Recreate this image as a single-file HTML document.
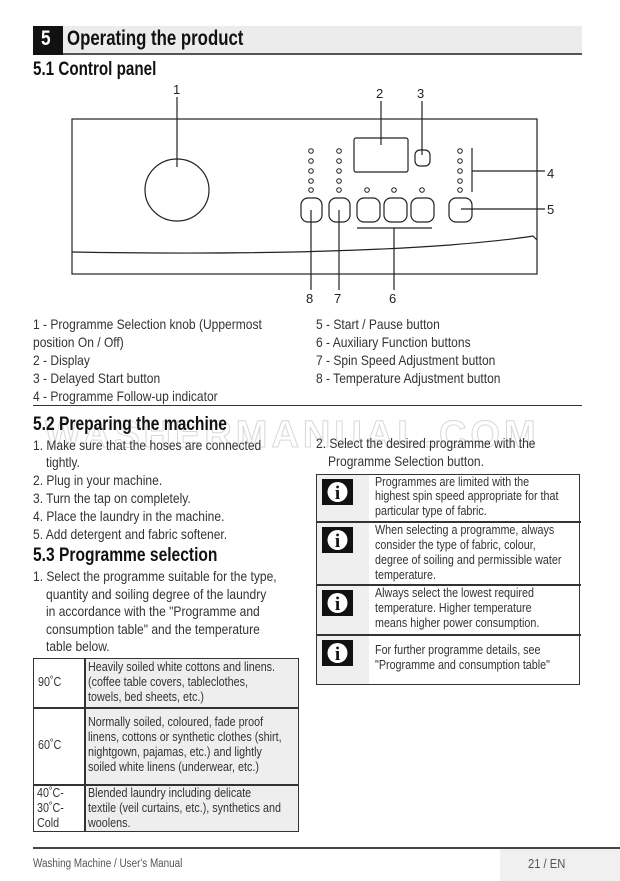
<!DOCTYPE html>
<html><head><meta charset="utf-8"><style>
body{margin:0;width:620px;height:881px;background:#fff;position:relative;overflow:hidden;font-family:"Liberation Sans",sans-serif;color:#333}
.t{position:absolute;white-space:nowrap;font-size:14px;line-height:18px;transform:scaleX(.86);transform-origin:0 0;color:#333}
.s{position:absolute;white-space:nowrap;font-size:12.5px;line-height:15px;transform:scaleX(.86);transform-origin:0 0;color:#333}
.h{position:absolute;white-space:nowrap;font-size:19px;font-weight:bold;transform:scaleX(.82);transform-origin:0 0;color:#111}
</style></head><body>
<div style="position:absolute;left:33px;top:26px;width:549px;height:27px;background:#ececec;border-bottom:2px solid #555"></div>
<div style="position:absolute;left:33px;top:26px;width:30px;height:29px;background:#111"></div>
<div class="h" style="left:41px;top:27px;color:#fff;font-size:21px">5</div>
<div class="h" style="left:67px;top:27px;font-size:21px;transform:scaleX(.8)">Operating the product</div>
<div class="h" style="left:33px;top:59px;transform:scaleX(.8)">5.1 Control panel</div>

<svg style="position:absolute;left:0;top:0" width="620" height="310" font-family="Liberation Sans" font-size="13" fill="none" stroke="#222" stroke-width="1.2">
<rect x="72" y="119" width="465" height="155"/>
<path d="M72 252 Q300 256 450 245 Q510 240 533 236 L537 240"/>
<ellipse cx="177" cy="190" rx="32" ry="31"/>
<rect x="354" y="138" width="54" height="34" rx="2"/>
<rect x="415" y="150" width="15" height="16" rx="5"/>
<g stroke-width="1">
<circle cx="311" cy="151" r="2.3"/><circle cx="311" cy="161" r="2.3"/><circle cx="311" cy="171" r="2.3"/><circle cx="311" cy="181" r="2.3"/><circle cx="311" cy="190" r="2.3"/>
<circle cx="339" cy="151" r="2.3"/><circle cx="339" cy="161" r="2.3"/><circle cx="339" cy="171" r="2.3"/><circle cx="339" cy="181" r="2.3"/><circle cx="339" cy="190" r="2.3"/>
<circle cx="460" cy="151" r="2.3"/><circle cx="460" cy="161" r="2.3"/><circle cx="460" cy="171" r="2.3"/><circle cx="460" cy="181" r="2.3"/><circle cx="460" cy="190" r="2.3"/>
<circle cx="367" cy="190" r="2.3"/><circle cx="394" cy="190" r="2.3"/><circle cx="422" cy="190" r="2.3"/>
</g>
<rect x="301" y="198" width="21" height="24" rx="7"/>
<rect x="329" y="198" width="21" height="24" rx="7"/>
<rect x="357" y="198" width="23" height="24" rx="7"/>
<rect x="384" y="198" width="23" height="24" rx="7"/>
<rect x="411" y="198" width="23" height="24" rx="7"/>
<rect x="449" y="198" width="23" height="24" rx="7"/>
<line x1="357" y1="228" x2="432" y2="228"/>
<line x1="177" y1="97" x2="177" y2="167"/>
<line x1="381" y1="101" x2="381" y2="145"/>
<line x1="422" y1="101" x2="422" y2="155"/>
<line x1="472" y1="148" x2="472" y2="192"/>
<line x1="472" y1="171" x2="545" y2="171"/>
<line x1="461" y1="209" x2="545" y2="209"/>
<line x1="311" y1="210" x2="311" y2="290"/>
<line x1="339" y1="210" x2="339" y2="290"/>
<line x1="394" y1="228" x2="394" y2="290"/>
<g fill="#222" stroke="none">
<text x="173" y="94">1</text><text x="376" y="98">2</text><text x="417" y="98">3</text>
<text x="547" y="178">4</text><text x="547" y="214">5</text>
<text x="306" y="303">8</text><text x="334" y="303">7</text><text x="389" y="303">6</text>
</g></svg>

<div class="t" style="left:33px;top:315px">1 - Programme Selection knob (Uppermost</div>
<div class="t" style="left:33px;top:333px">position On / Off)</div>
<div class="t" style="left:33px;top:351px">2 - Display</div>
<div class="t" style="left:33px;top:369px">3 - Delayed Start button</div>
<div class="t" style="left:33px;top:387px">4 - Programme Follow-up indicator</div>
<div class="t" style="left:316px;top:315px">5 - Start / Pause button</div>
<div class="t" style="left:316px;top:333px">6 - Auxiliary Function buttons</div>
<div class="t" style="left:316px;top:351px">7 - Spin Speed Adjustment button</div>
<div class="t" style="left:316px;top:369px">8 - Temperature Adjustment button</div>
<div style="position:absolute;left:33px;top:405px;width:549px;height:1px;background:#333"></div>

<div style="position:absolute;left:45px;top:414px;font-size:38px;font-weight:bold;color:transparent;-webkit-text-stroke:1px #d8d8d8;letter-spacing:4px;white-space:nowrap">WASHERMANUAL.COM</div>

<div class="h" style="left:33px;top:414px">5.2 Preparing the machine</div>
<div class="t" style="left:33px;top:436px">1. Make sure that the hoses are connected</div>
<div class="t" style="left:46px;top:453px">tightly.</div>
<div class="t" style="left:33px;top:471px">2. Plug in your machine.</div>
<div class="t" style="left:33px;top:489px">3. Turn the tap on completely.</div>
<div class="t" style="left:33px;top:507px">4. Place the laundry in the machine.</div>
<div class="t" style="left:33px;top:525px">5. Add detergent and fabric softener.</div>
<div class="h" style="left:33px;top:545px">5.3 Programme selection</div>
<div class="t" style="left:33px;top:567px">1. Select the programme suitable for the type,</div>
<div class="t" style="left:46px;top:585px">quantity and soiling degree of the laundry</div>
<div class="t" style="left:46px;top:602px">in accordance with the "Programme and</div>
<div class="t" style="left:46px;top:620px">consumption table" and the temperature</div>
<div class="t" style="left:46px;top:637px">table below.</div>

<div class="t" style="left:316px;top:434px">2. Select the desired programme with the</div>
<div class="t" style="left:328px;top:452px">Programme Selection button.</div>

<div style="position:absolute;left:33px;top:658px;width:264px;height:172px;border:1.5px solid #333"></div>
<div style="position:absolute;left:85px;top:659px;width:213px;height:172px;background:#eee"></div>
<div style="position:absolute;left:84px;top:658px;width:1.5px;height:174px;background:#333"></div>
<div style="position:absolute;left:33px;top:707px;width:266px;height:1.5px;background:#333"></div>
<div style="position:absolute;left:33px;top:784px;width:266px;height:1.5px;background:#333"></div>
<div class="s" style="left:38px;top:675px">90˚C</div>
<div class="s" style="left:38px;top:738px">60˚C</div>
<div class="s" style="left:37px;top:786px">40˚C-</div>
<div class="s" style="left:37px;top:801px">30˚C-</div>
<div class="s" style="left:37px;top:816px">Cold</div>
<div class="s" style="left:88px;top:660px">Heavily soiled white cottons and linens.</div>
<div class="s" style="left:88px;top:675px">(coffee table covers, tableclothes,</div>
<div class="s" style="left:88px;top:690px">towels, bed sheets, etc.)</div>
<div class="s" style="left:88px;top:715px">Normally soiled, coloured, fade proof</div>
<div class="s" style="left:88px;top:730px">linens, cottons or synthetic clothes (shirt,</div>
<div class="s" style="left:88px;top:745px">nightgown, pajamas, etc.) and lightly</div>
<div class="s" style="left:88px;top:760px">soiled white linens (underwear, etc.)</div>
<div class="s" style="left:88px;top:786px">Blended laundry including delicate</div>
<div class="s" style="left:88px;top:801px">textile (veil curtains, etc.), synthetics and</div>
<div class="s" style="left:88px;top:816px">woolens.</div>

<div style="position:absolute;left:316px;top:474px;width:262px;height:209px;border:1.5px solid #333"></div>
<div style="position:absolute;left:317px;top:475px;width:52px;height:209px;background:#efefef"></div>
<div style="position:absolute;left:316px;top:521px;width:265px;height:1.5px;background:#333"></div>
<div style="position:absolute;left:316px;top:584px;width:265px;height:1.5px;background:#333"></div>
<div style="position:absolute;left:316px;top:634px;width:265px;height:1.5px;background:#333"></div>
<svg style="position:absolute;left:0;top:0" width="620" height="881">
<g font-family="Liberation Serif" font-weight="bold" font-size="19" text-anchor="middle">
<rect x="322" y="479" width="31" height="26" fill="#111"/><circle cx="337.5" cy="492" r="10" fill="#fff"/><text x="337.5" y="499" fill="#111">i</text>
<rect x="322" y="527" width="31" height="26" fill="#111"/><circle cx="337.5" cy="540" r="10" fill="#fff"/><text x="337.5" y="547" fill="#111">i</text>
<rect x="322" y="590" width="31" height="26" fill="#111"/><circle cx="337.5" cy="603" r="10" fill="#fff"/><text x="337.5" y="610" fill="#111">i</text>
<rect x="322" y="640" width="31" height="26" fill="#111"/><circle cx="337.5" cy="653" r="10" fill="#fff"/><text x="337.5" y="660" fill="#111">i</text>
</g></svg>
<div class="s" style="left:375px;top:475px">Programmes are limited with the</div>
<div class="s" style="left:375px;top:489px">highest spin speed appropriate for that</div>
<div class="s" style="left:375px;top:504px">particular type of fabric.</div>
<div class="s" style="left:375px;top:523px">When selecting a programme, always</div>
<div class="s" style="left:375px;top:538px">consider the type of fabric, colour,</div>
<div class="s" style="left:375px;top:553px">degree of soiling and permissible water</div>
<div class="s" style="left:375px;top:568px">temperature.</div>
<div class="s" style="left:375px;top:586px">Always select the lowest required</div>
<div class="s" style="left:375px;top:601px">temperature. Higher temperature</div>
<div class="s" style="left:375px;top:616px">means higher power consumption.</div>
<div class="s" style="left:375px;top:643px">For further programme details, see</div>
<div class="s" style="left:375px;top:658px">"Programme and consumption table"</div>

<div style="position:absolute;left:33px;top:847px;width:587px;height:1.5px;background:#444"></div>
<div style="position:absolute;left:500px;top:849px;width:120px;height:32px;background:#f0f0f0"></div>
<div class="s" style="left:33px;top:857px;font-size:11.5px;color:#555">Washing Machine / User's Manual</div>
<div class="s" style="left:528px;top:856px;font-size:13px;color:#555">21 / EN</div>
</body></html>
